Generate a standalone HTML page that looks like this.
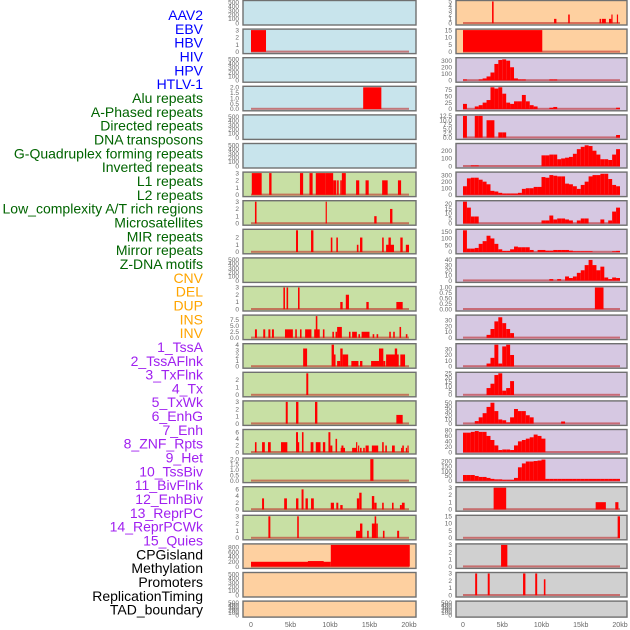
<!DOCTYPE html>
<html><head><meta charset="utf-8">
<style>
html,body{margin:0;padding:0;background:#fff;}
svg{display:block;font-family:"Liberation Sans",sans-serif;}
</style></head>
<body>
<svg id="chart" width="630" height="630" viewBox="0 0 630 630" xmlns="http://www.w3.org/2000/svg"></svg>
<script>
// ---- data ----
const trackLabels = ["AAV2","EBV","HBV","HIV","HPV","HTLV-1","Alu repeats","A-Phased repeats","Directed repeats","DNA transposons","G-Quadruplex forming repeats","Inverted repeats","L1 repeats","L2 repeats","Low_complexity A/T rich regions","Microsatellites","MIR repeats","Mirror repeats","Z-DNA motifs","CNV","DEL","DUP","INS","INV","1_TssA","2_TssAFlnk","3_TxFlnk","4_Tx","5_TxWk","6_EnhG","7_Enh","8_ZNF_Rpts","9_Het","10_TssBiv","11_BivFlnk","12_EnhBiv","13_ReprPC","14_ReprPCWk","15_Quies","CPGisland","Methylation","Promoters","ReplicationTiming","TAD_boundary"];
const labelColors = ["#0000ff","#006400","#ffa500","#a020f0","#000000"];
const labelGroupSizes = [6,13,5,15,5];
const xTickValues = [0,5,10,15,20];
const xTickLabels = ["0","5kb","10kb","15kb","20kb"];

const ticks500 = [0,100,200,300,400,500];
const ticks3 = [0,1,2,3];

// left column bars [startKb,endKb,value]
const bars_L1 = [[0,1.9,3]];
const bars_L3 = [[14.2,16.5,2]];
const bars_L6 = [[0.1,1.35,3],[2.3,2.6,3],[6.2,6.6,3],[7.4,7.8,3],[8.2,9.4,3],[9.4,10.4,3],[10.4,10.8,2],[10.9,11.1,2],[11.5,12,3],[11.3,11.5,2],[13.3,13.7,2],[14.5,14.9,2],[16.6,17.3,2],[18.6,19,2]];
const bars_L7 = [[0.5,0.7,3],[9.45,9.6,3],[15.6,15.9,1],[17.6,17.9,2]];
const bars_L8 = [[5.7,5.95,3],[7.6,7.9,3],[10.1,10.3,2],[10.8,11,2],[13.4,13.6,1],[13.8,14.1,2],[16.6,16.8,2],[17.1,18.1,1],[17.4,17.7,2],[18.9,19.2,2],[19.6,20,1]];
const bars_L10 = [[4.1,4.3,3],[4.5,4.7,3],[5.95,6.15,3],[11.3,11.6,1],[12,12.4,2],[14.6,14.9,1],[18.4,19.2,1]];
const bars_L11 = [[0.5,0.75,3.5],[1.55,1.8,3.5],[2.2,2.45,3.5],[2.65,2.9,3.5],[4.3,5.3,3.5],[5.6,5.8,3.5],[6.2,6.4,3.5],[6.85,7.65,3.5],[8,8.7,3.5],[8.2,8.4,9],[9.1,9.3,3.5],[10.3,10.5,2.5],[10.7,10.9,2.5],[10.9,11.5,4.5],[12.4,12.6,2.5],[12.8,13.4,2.5],[13.6,13.8,1.5],[14,15,2.5],[15.4,15.6,1.5],[15.9,16.1,1.5],[17.5,17.7,2.5],[18,18.2,2.5],[18.8,19,4.5],[19.6,19.8,1.5]];
const bars_L12 = [[6.6,7.1,3.3],[10.2,10.5,4],[10.5,10.7,2.2],[10.9,11.3,1],[11.3,11.6,3.3],[11.6,12.3,2.2],[12.7,13.6,1],[13.8,14.1,1],[15.2,16.2,1],[16.2,16.75,3.3],[16.75,17,1],[17.1,18.7,2.2],[18.2,18.5,3.3],[18.9,19.5,2.2]];
const bars_L13 = [[7,7.25,2.9]];
const bars_L14 = [[4.4,4.65,3],[5.7,6,3],[8.1,8.4,3],[18.4,19.2,1.2]];
const bars_L15 = [[0.5,0.7,3],[1.4,1.75,3],[2.15,2.5,3],[3.8,4.6,3],[5.7,5.95,6],[5.95,6.1,3],[6.45,6.65,6],[7.55,7.9,3],[8.2,8.8,3],[9.1,9.4,3],[9.8,10.05,6],[10.05,10.3,2],[10.7,10.9,4],[11.35,11.9,1.3],[11.45,11.7,2],[12.8,13.35,1.3],[13.3,13.45,3],[13.55,13.7,2],[13.8,14,1.3],[14.2,14.4,1.3],[14.5,14.9,2],[15.3,16.1,2],[16.6,16.8,3],[17,17.2,2],[17.85,18.2,2],[19,19.15,1.3],[19.15,19.35,2],[19.6,19.75,1.3],[19.8,19.95,2]];
const bars_L16 = [[15.1,15.5,2]];
const bars_L17 = [[1.4,1.65,3.3],[4.2,4.55,3.3],[5.7,6,3.3],[6.4,6.65,6],[6.9,7.2,3.3],[7.6,7.95,3.3],[10.1,10.5,2],[10.8,11.05,2],[11.3,11.6,1.3],[13.4,13.7,3.3],[13.7,14,5],[15.3,15.6,4],[15.6,15.9,2],[16.6,16.8,2],[17.85,18.05,2],[18.85,19.1,1.3],[19.1,19.45,2]];
const bars_L18 = [[2.2,2.45,3],[5.85,6.05,3],[13.3,13.8,1],[13.8,14.1,2],[14.7,14.9,1],[15.3,15.7,2],[15.65,15.85,3],[15.85,16.05,2],[16.7,16.9,1],[18.5,18.75,1]];
const bars_L19 = [[0,10.1,200],[7.2,9.2,230],[10.1,20.1,900]];

// right column
const bars_R0 = [[3.7,3.9,5],[11.6,11.9,1],[13.4,13.6,2],[17.4,17.6,1],[17.7,18.2,1],[18.6,18.9,1],[18.9,19.05,2],[19.6,19.75,2]];
const bars_R1 = [[0,10.1,15]];
const bins_R2 = [[0,15],[4,15],[5,30],[6,60],[7,120],[8,250],[9,310],[10,320],[11,300],[12,200],[13,30],[14,15],[15,15],[22,15],[23,15]];
const bins_R3 = [[0,20],[3,10],[4,15],[5,25],[6,35],[7,85],[8,80],[9,85],[10,60],[11,25],[12,20],[13,30],[14,30],[15,55],[16,30],[17,15],[18,10],[22,5],[23,8],[39,5]];
const bins_R4 = [[0,12.5],[3,12.5],[4,12.5],[6,10],[7,10],[9,3],[10,3],[39,1.5]];
const bins_R5 = [[2,10],[3,10],[20,140],[21,140],[22,150],[23,150],[24,90],[25,100],[26,110],[27,120],[28,160],[29,220],[30,250],[31,270],[32,260],[33,200],[34,150],[35,90],[36,90],[37,80],[38,150],[39,220]];
const bins_R6 = [[0,130],[1,250],[2,260],[3,260],[4,230],[5,200],[6,160],[7,60],[8,50],[9,30],[10,20],[11,20],[12,20],[13,20],[14,30],[15,90],[16,100],[17,100],[18,120],[19,120],[20,270],[21,260],[22,300],[23,290],[24,280],[25,280],[26,170],[27,160],[28,130],[29,90],[30,150],[31,200],[32,280],[33,300],[34,300],[35,320],[36,320],[37,240],[38,150],[39,130]];
const bins_R7 = [[0,22],[1,16],[2,7],[3,7],[20,3],[21,3],[22,8],[23,4],[24,5],[25,5],[26,4],[27,3],[29,3],[30,5],[31,5],[35,4],[37,3],[38,12],[39,16]];
const bins_R8 = [[0,160],[1,25],[2,25],[3,30],[4,60],[5,80],[6,120],[7,100],[8,60],[9,20],[10,8],[11,8],[12,20],[13,40],[14,35],[15,35],[16,35],[17,15],[19,15],[20,15],[21,10],[22,10],[23,15],[24,15],[25,15],[26,15],[27,10],[28,5],[29,5],[30,5],[31,5],[32,5],[38,5],[39,8]];
const bins_R9 = [[22,3],[24,3],[26,8],[27,5],[28,8],[29,15],[30,20],[31,30],[32,40],[33,30],[34,20],[35,27],[36,6],[37,3],[38,6],[39,5]];
const bars_R10 = [[16.8,17.9,1]];
const bins_R11 = [[6,5],[7,15],[8,28],[9,35],[10,25],[11,15],[12,8]];
const bins_R12 = [[6,5],[7,15],[8,38],[9,5],[10,35],[11,38],[12,20]];
const bins_R13 = [[6,8],[7,13],[8,23],[9,25],[10,5],[11,8],[12,16]];
const bins_R14 = [[3,6],[4,15],[5,25],[6,40],[7,50],[8,30],[9,10],[10,8],[11,3],[12,15],[13,35],[14,30],[15,30],[16,20],[17,15],[25,5]];
const bins_R15 = [[0,72],[1,72],[2,75],[3,78],[4,75],[5,75],[6,60],[7,45],[8,25],[9,8],[10,10],[11,10],[12,8],[13,25],[14,40],[15,45],[16,50],[17,55],[18,65],[19,60],[20,50]];
const bins_R16 = [[0,60],[1,60],[2,60],[3,50],[4,40],[5,40],[6,30],[7,20],[8,15],[9,15],[10,10],[11,10],[12,10],[13,30],[14,140],[15,180],[16,200],[17,200],[18,205],[19,210],[20,220],[21,20],[22,20],[23,20],[24,20],[25,20],[26,20],[27,20],[28,20],[29,20],[30,20],[31,20],[32,20],[33,20],[34,20],[35,20],[36,20],[37,20],[38,20],[39,20]];
const bars_R17 = [[3.9,5.5,3],[16.9,18.2,1],[19.4,19.8,1]];
const bars_R18 = [[19.7,20,15]];
const bars_R19 = [[4.85,5.65,3]];
const bars_R20 = [[1.55,1.8,3],[3.15,3.4,3],[7.65,7.95,3],[9.2,9.45,3],[10.3,10.5,2.2]];

const binsToBars = b => b.map(p => [p[0]*0.5, p[0]*0.5+0.5, p[1]]);
const leftPanels = [
 {bg:"#c8e4ec", ymax:520, ticks:ticks500, bars:null},
 {bg:"#c8e4ec", ymax:3, ticks:ticks3, bars:bars_L1},
 {bg:"#c8e4ec", ymax:520, ticks:ticks500, bars:null},
 {bg:"#c8e4ec", ymax:2, ticks:[0,0.5,1,1.5,2], tickFmt:1, bars:bars_L3},
 {bg:"#c8e4ec", ymax:520, ticks:ticks500, bars:null},
 {bg:"#c8e4ec", ymax:520, ticks:ticks500, bars:null},
 {bg:"#c8e0a4", ymax:3, ticks:ticks3, bars:bars_L6},
 {bg:"#c8e0a4", ymax:3, ticks:ticks3, bars:bars_L7},
 {bg:"#c8e0a4", ymax:3, ticks:[0,1,2], bars:bars_L8},
 {bg:"#c8e0a4", ymax:520, ticks:ticks500, bars:null},
 {bg:"#c8e0a4", ymax:3, ticks:ticks3, bars:bars_L10},
 {bg:"#c8e0a4", ymax:9, ticks:[0,2.5,5,7.5], tickFmt:1, bars:bars_L11},
 {bg:"#c8e0a4", ymax:4, ticks:[0,1,2,3,4], bars:bars_L12},
 {bg:"#c8e0a4", ymax:2.9, ticks:[0,1,2], bars:bars_L13},
 {bg:"#c8e0a4", ymax:3, ticks:ticks3, bars:bars_L14},
 {bg:"#c8e0a4", ymax:6.5, ticks:[0,2,4,6], bars:bars_L15},
 {bg:"#c8e0a4", ymax:2, ticks:[0,0.5,1,1.5,2], tickFmt:1, bars:bars_L16},
 {bg:"#c8e0a4", ymax:6.5, ticks:[0,2,4,6], bars:bars_L17},
 {bg:"#c8e0a4", ymax:3, ticks:ticks3, bars:bars_L18},
 {bg:"#fed0a0", ymax:900, ticks:[0,200,400,600,800], bars:bars_L19},
 {bg:"#fed0a0", ymax:520, ticks:ticks500, bars:null},
 {bg:"#fed0a0", ymax:520, ticks:ticks500, bars:null, short:true}
];
const rightPanels = [
 {bg:"#fed0a0", ymax:5, ticks:[0,1,2,3,4,5], bars:bars_R0},
 {bg:"#fed0a0", ymax:15, ticks:[0,5,10,15], bars:bars_R1},
 {bg:"#d6c8e2", ymax:330, ticks:[0,100,200,300], bars:binsToBars(bins_R2)},
 {bg:"#d6c8e2", ymax:85, ticks:[0,25,50,75], bars:binsToBars(bins_R3)},
 {bg:"#d6c8e2", ymax:12.5, ticks:[0,2.5,5,7.5,10,12.5], tickFmt:1, bars:binsToBars(bins_R4)},
 {bg:"#d6c8e2", ymax:280, ticks:[0,100,200], bars:binsToBars(bins_R5)},
 {bg:"#d6c8e2", ymax:330, ticks:[0,100,200,300], bars:binsToBars(bins_R6)},
 {bg:"#d6c8e2", ymax:22, ticks:[0,5,10,15,20], bars:binsToBars(bins_R7)},
 {bg:"#d6c8e2", ymax:160, ticks:[0,50,100,150], bars:binsToBars(bins_R8)},
 {bg:"#d6c8e2", ymax:42, ticks:[0,10,20,30,40], bars:binsToBars(bins_R9)},
 {bg:"#d6c8e2", ymax:1, ticks:[0,0.25,0.5,0.75,1], tickFmt:2, bars:bars_R10},
 {bg:"#d6c8e2", ymax:37, ticks:[0,10,20,30], bars:binsToBars(bins_R11)},
 {bg:"#d6c8e2", ymax:38, ticks:[0,10,20,30], bars:binsToBars(bins_R12)},
 {bg:"#d6c8e2", ymax:25, ticks:[0,5,10,15,20,25], bars:binsToBars(bins_R13)},
 {bg:"#d6c8e2", ymax:52, ticks:[0,10,20,30,40,50], bars:binsToBars(bins_R14)},
 {bg:"#d6c8e2", ymax:80, ticks:[0,20,40,60,80], bars:binsToBars(bins_R15)},
 {bg:"#d6c8e2", ymax:225, ticks:[0,50,100,150,200], bars:binsToBars(bins_R16)},
 {bg:"#d0d0d0", ymax:3, ticks:ticks3, bars:bars_R17},
 {bg:"#d0d0d0", ymax:15, ticks:[0,5,10,15], bars:bars_R18},
 {bg:"#d0d0d0", ymax:3, ticks:ticks3, bars:bars_R19},
 {bg:"#d0d0d0", ymax:3, ticks:ticks3, bars:bars_R20},
 {bg:"#d0d0d0", ymax:520, ticks:ticks500, bars:null, short:true}
];

// ---- drawing ----
const NS = "http://www.w3.org/2000/svg";
const svg = document.getElementById("chart");
function mk(tag, attrs, parent) {
  const e = document.createElementNS(NS, tag);
  for (const k in attrs) e.setAttribute(k, attrs[k]);
  (parent || svg).appendChild(e);
  return e;
}

// labels
let idx = 0;
const labelGroup = mk("g", {});


labelGroupSizes.forEach((n, g) => {
  for (let j = 0; j < n; j++, idx++) {
    const t = mk("text", {x:203, y:(15 + idx*13.83 + 5).toFixed(1), "text-anchor":"end", "font-size":"14", fill:labelColors[g]}, labelGroup);
    t.textContent = trackLabels[idx];
    
    
  }
});

function drawColumn(panels, x0, x1, kx0, kx1, colName) {
  const xs = kb => kx0 + kb/20*(kx1 - kx0);
  const col = mk("g", {});
  
  
  panels.forEach((p, i) => {
    const T = i*28.6 + 0.5;
    const H = p.short ? 16 : 24.5;
    const base = T + H - 1.8;
    const top = T + 1;
    const ys = v => base - v/p.ymax*(base - top);
    const g = mk("g", {}, col);
    
    
    const bg = mk("rect", {x:x0, y:T, width:x1-x0, height:H, fill:p.bg, stroke:"#707070", "stroke-width":1.4}, g);
    
    
    p.ticks.forEach(tv => {
      const lab = p.tickFmt ? tv.toFixed(p.tickFmt) : String(tv);
      const t = mk("text", {x:x0-4, y:(ys(tv)+2.2).toFixed(1), "text-anchor":"end", "font-size":"6.5", fill:"#666"}, g);
      t.textContent = lab;
      
      
    });
    if (p.bars) {
      const bl = mk("rect", {x:xs(0), y:base-1.2, width:xs(20)-xs(0), height:2, fill:"rgba(190,30,30,0.55)"}, g);
      
      
      p.bars.forEach(b => {
        const bx = xs(b[0]);
        const w = Math.max(1.2, xs(b[1]) - bx);
        const y = ys(Math.min(b[2], p.ymax));
        const r = mk("rect", {x:bx.toFixed(2), y:y.toFixed(2), width:w.toFixed(2), height:(base-y).toFixed(2), fill:"#ff0000"}, g);
        
        
      });
    }
  });
  xTickValues.forEach((v, k) => {
    const t = mk("text", {x:xs(v), y:627, "text-anchor":"middle", "font-size":"7", fill:"#666"}, col);
    t.textContent = xTickLabels[k];
    
    
  });
}
drawColumn(leftPanels, 243, 416, 251, 409, "left-track-column");
drawColumn(rightPanels, 456, 627, 463, 620, "right-track-column");
</script>
</body></html>
